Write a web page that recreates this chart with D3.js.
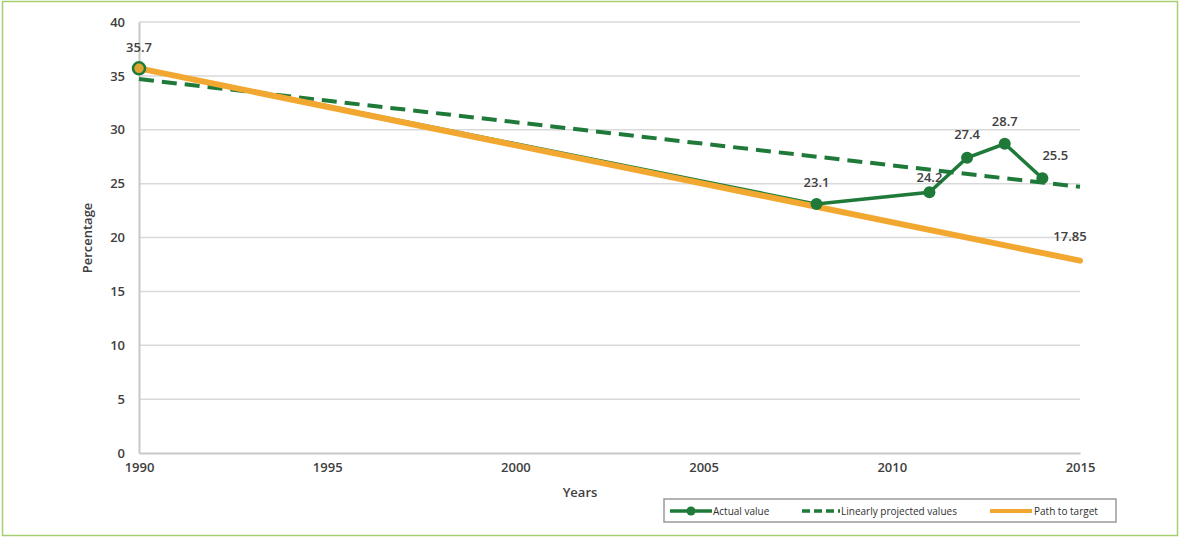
<!DOCTYPE html>
<html><head><meta charset="utf-8">
<script src="https://cdn.jsdelivr.net/npm/d3@7"></script>
<style>body{margin:0;background:#fff}svg{display:block}text{font-family:"Open Sans",sans-serif}</style>
</head><body>
<svg id="chart" width="1182" height="538"></svg>
<script>
const actualYears = [1990, 2008, 2011, 2012, 2013, 2014];
const actualValues = [35.7, 23.1, 24.2, 27.4, 28.7, 25.5];
const projectedYears = [1990, 2015];
const projectedValues = [34.7, 24.7];
const targetYears = [1990, 2015];
const targetValues = [35.7, 17.85];
const xTicks = [1990, 1995, 2000, 2005, 2010, 2015];
const yTicks = [0, 5, 10, 15, 20, 25, 30, 35, 40];
const legendLabels = ["Actual value", "Linearly projected values", "Path to target"];

const green = "#1f7a3a", orange = "#f2a830";
const svg = d3.select("#chart");
svg.append("rect").attr("x", 2.5).attr("y", 1.5).attr("width", 1175).attr("height", 534)
  .attr("fill", "none").attr("stroke", "#a6cf72").attr("stroke-width", 1.5);

const x = d3.scaleLinear().domain([1990, 2015]).range([139, 1080]);
const y = d3.scaleLinear().domain([0, 40]).range([453, 22]);

// grid
svg.append("g").selectAll("line").data(yTicks.filter(d => d > 0)).join("line")
  .attr("x1", x(1990)).attr("x2", x(2015)).attr("y1", d => y(d)).attr("y2", d => y(d))
  .attr("stroke", "#d9d9d9").attr("stroke-width", 1.5);

// axes
const yAxis = svg.append("g").attr("transform", `translate(${x(1990)},0)`)
  .call(d3.axisLeft(y).tickValues(yTicks).tickSize(0).tickPadding(14));
yAxis.select(".domain").attr("stroke", "#c8c8c8").attr("stroke-width", 2);
const xAxis = svg.append("g").attr("transform", `translate(0,${y(0)})`)
  .call(d3.axisBottom(x).tickValues(xTicks).tickFormat(d3.format("d")).tickSize(0).tickPadding(10));
xAxis.select(".domain").attr("stroke", "#c8c8c8").attr("stroke-width", 2);
svg.selectAll(".tick text").attr("font-size", 13).attr("font-weight", 600).attr("fill", "#404040");

svg.append("text").attr("x", 580).attr("y", 497).attr("text-anchor", "middle")
  .attr("font-size", 13).attr("font-weight", 600).attr("fill", "#404040").text("Years");
svg.append("text").attr("transform", "translate(92,238) rotate(-90)").attr("text-anchor", "middle")
  .attr("font-size", 13).attr("font-weight", 600).attr("fill", "#404040").text("Percentage");

const line = d3.line().x(d => x(d[0])).y(d => y(d[1]));
const actual = actualYears.map((d, i) => [d, actualValues[i]]);
const projected = projectedYears.map((d, i) => [d, projectedValues[i]]);
const target = targetYears.map((d, i) => [d, targetValues[i]]);

svg.append("path").datum(projected).attr("d", line).attr("fill", "none")
  .attr("stroke", green).attr("stroke-width", 4).attr("stroke-dasharray", "15,8");
svg.append("path").datum(actual).attr("d", line).attr("fill", "none")
  .attr("stroke", green).attr("stroke-width", 3.5);
svg.append("path").datum(target).attr("d", line).attr("fill", "none")
  .attr("stroke", orange).attr("stroke-width", 6).attr("stroke-linecap", "round");
svg.append("g").selectAll("circle").data(actual).join("circle")
  .attr("cx", d => x(d[0])).attr("cy", d => y(d[1])).attr("r", (d, i) => i === 0 ? 6 : 6)
  .attr("fill", (d, i) => i === 0 ? "#e0a530" : green)
  .attr("stroke", green).attr("stroke-width", (d, i) => i === 0 ? 2.5 : 0);

// labels
const lab = [
  {d: actual[0], t: "35.7", dx: 0, dy: -16},
  {d: actual[1], t: "23.1", dx: 0, dy: -17},
  {d: actual[2], t: "24.2", dx: 0, dy: -10},
  {d: actual[3], t: "27.4", dx: 0, dy: -19},
  {d: actual[4], t: "28.7", dx: 0, dy: -18},
  {d: actual[5], t: "25.5", dx: 13, dy: -18},
  {d: target[1], t: "17.85", dx: -10, dy: -20}
];
svg.append("g").selectAll("text").data(lab).join("text")
  .attr("x", d => x(d.d[0]) + d.dx).attr("y", d => y(d.d[1]) + d.dy)
  .attr("text-anchor", "middle").attr("font-size", 13).attr("font-weight", 600).attr("fill", "#404040")
  .text(d => d.t);

// legend
const lg = svg.append("g");
lg.append("rect").attr("x", 664).attr("y", 499).attr("width", 452).attr("height", 23)
  .attr("fill", "#fff").attr("stroke", "#9a9a9a").attr("stroke-width", 1.5);
lg.append("line").attr("x1", 670).attr("x2", 712).attr("y1", 511).attr("y2", 511).attr("stroke", green).attr("stroke-width", 3.5);
lg.append("circle").attr("cx", 691).attr("cy", 511).attr("r", 4.5).attr("fill", green);
lg.append("line").attr("x1", 802).attr("x2", 840).attr("y1", 511).attr("y2", 511).attr("stroke", green).attr("stroke-width", 3.5).attr("stroke-dasharray", "8,4");
lg.append("line").attr("x1", 990).attr("x2", 1032).attr("y1", 511).attr("y2", 511).attr("stroke", orange).attr("stroke-width", 4);
const lx = [713, 841, 1034];
lg.selectAll("text").data(legendLabels).join("text")
  .attr("x", (d, i) => lx[i]).attr("y", 515).attr("font-size", 10).attr("fill", "#303030").text(d => d);
</script>
</body></html>
